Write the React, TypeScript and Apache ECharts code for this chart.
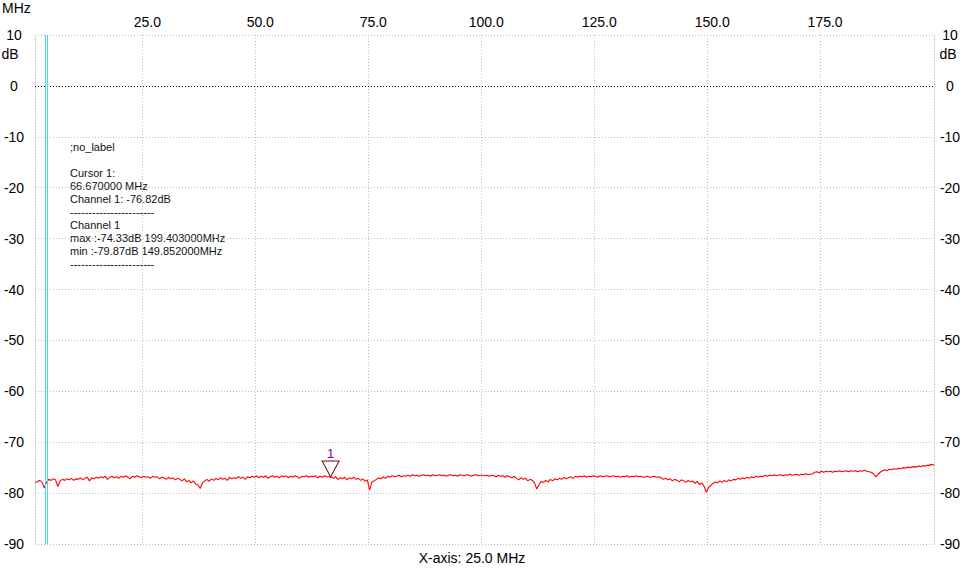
import React, { useEffect, useRef } from "react";
import * as echarts from "echarts";

const freqStart = 1.3;
const freqStep = 0.5;
const levels: number[] = [
  -77.9, -77.7, -77.5, -77.8, -79.0, -77.9, -77.3, -77.5, -77.2, -77.4,
  -78.7, -77.6, -77.3, -77.5, -77.2, -77.4, -77.1, -77.5, -77.2, -77.3,
  -77.0, -77.4, -77.1, -76.9, -77.6, -77.0, -77.2, -76.9, -77.1, -76.8,
  -77.0, -76.7, -77.3, -76.9, -76.7, -77.0, -76.8, -77.1, -76.7, -76.9,
  -76.6, -76.9, -77.2, -76.7, -76.9, -76.6, -76.8, -77.0, -76.7, -76.9,
  -76.8, -77.1, -76.7, -76.9, -76.8, -77.2, -76.9, -77.0, -77.3, -76.9,
  -77.2, -77.0, -77.4, -77.1, -77.3, -77.6, -77.2, -77.8, -77.5, -78.0,
  -77.6, -78.2, -78.4, -79.1, -78.0, -77.6, -77.3, -77.7, -77.2, -77.5,
  -77.1, -77.4, -77.0, -77.3, -77.1, -77.5, -76.9, -77.2, -77.0, -77.1,
  -76.8, -77.1, -76.9, -77.3, -76.8, -77.0, -76.7, -76.9, -76.6, -77.0,
  -76.7, -76.9, -76.6, -77.1, -76.8, -76.6, -76.9, -76.7, -77.0, -76.6,
  -76.8, -76.6, -77.0, -76.7, -76.9, -76.6, -76.8, -77.1, -76.7, -76.8,
  -76.6, -76.9, -76.7, -76.8, -76.6, -77.0, -76.7, -76.9, -76.6, -76.8,
  -76.8, -76.9, -77.1, -76.8, -77.3, -77.0, -77.2, -76.9, -77.4, -77.0,
  -77.2, -76.9, -77.3, -77.1, -77.5, -77.2, -77.7, -77.4, -79.4, -77.8,
  -77.6, -77.3, -77.0, -77.2, -76.8, -77.1, -76.7, -76.9, -76.6, -76.8,
  -76.7, -76.5, -76.8, -76.6, -76.7, -76.5, -76.7, -76.4, -76.6, -76.5,
  -76.7, -76.5, -76.4, -76.6, -76.5, -76.7, -76.4, -76.6, -76.5, -76.4,
  -76.6, -76.5, -76.7, -76.5, -76.4, -76.6, -76.5, -76.7, -76.4, -76.5,
  -76.6, -76.4, -76.5, -76.7, -76.5, -76.4, -76.6, -76.5, -76.5, -76.6,
  -76.5, -76.7, -76.5, -76.6, -76.8, -76.5, -76.7, -76.6, -76.9, -76.6,
  -76.8, -77.0, -76.7, -77.1, -77.4, -77.0, -77.3, -77.1, -77.6, -77.3,
  -77.5, -78.0, -79.2, -78.3, -77.7, -77.9, -77.5, -77.8, -77.3, -77.6,
  -77.2, -77.4, -77.1, -77.3, -76.9, -77.2, -77.0, -76.8, -77.1, -76.7,
  -76.9, -76.7, -76.8, -76.6, -76.9, -76.7, -76.8, -76.6, -76.7, -76.9,
  -76.6, -76.8, -76.7, -76.6, -76.8, -76.7, -76.6, -76.8, -76.7, -76.9,
  -76.7, -76.8, -76.6, -76.9, -76.7, -76.8, -76.6, -76.8, -76.7, -76.9,
  -76.8, -76.7, -76.9, -76.8, -76.7, -76.9, -76.8, -77.0, -77.3, -77.1,
  -77.4, -77.2, -77.6, -77.3, -77.5, -77.8, -77.4, -77.6, -77.9, -77.5,
  -77.8, -77.6, -78.1, -77.7, -78.3, -78.0, -78.6, -79.87, -78.9, -78.5,
  -78.1, -77.8, -78.0, -77.6, -77.9, -77.5, -77.8, -77.4, -77.6, -77.3,
  -77.4, -77.1, -77.3, -77.0, -77.2, -76.9, -77.1, -76.8, -77.0, -76.7,
  -76.9, -76.7, -76.8, -76.5, -76.7, -76.5, -76.6, -76.4, -76.6, -76.5,
  -76.4, -76.6, -76.4, -76.5, -76.3, -76.5, -76.4, -76.3, -76.5, -76.3,
  -76.4, -76.2, -76.4, -76.3, -76.2, -75.9, -75.8, -76.0, -75.7, -75.9,
  -75.7, -75.8, -75.7, -75.9, -75.7, -75.8, -75.6, -75.8, -75.7, -75.6,
  -75.8, -75.6, -75.7, -75.6, -75.8, -75.6, -75.7, -75.5, -75.7, -75.8,
  -75.9, -76.2, -76.8, -76.3, -75.9, -75.6, -75.4, -75.6, -75.3, -75.4,
  -75.2, -75.3, -75.1, -75.2, -75.0, -75.1, -74.9, -75.0, -74.9, -74.8,
  -74.9, -74.7, -74.8, -74.6, -74.7, -74.5, -74.6,
];
const tailPoints: [number, number][] = [
  [199.403, -74.33],
  [200.2, -74.5],
];
const xTicks = [25, 50, 75, 100, 125, 150, 175];
const cursorFreq = 66.67;
const cursorLevel = -76.82;
const startMarkers = [3.574, 4.016];
const infoLines = [
  ";no_label",
  "",
  "Cursor 1:",
  "66.670000 MHz",
  "Channel 1: -76.82dB",
  "-----------------------",
  "Channel 1",
  "max :-74.33dB 199.403000MHz",
  "min :-79.87dB 149.852000MHz",
  "-----------------------",
];

const FONT = "'Liberation Sans', Arial, sans-serif";

export default function App() {
  const ref = useRef<HTMLDivElement>(null);
  useEffect(() => {
    if (!ref.current) return;
    const chart = echarts.init(ref.current, null, { renderer: "svg" });
    const data: [number, number][] = levels
      .map((v, i) => [+(freqStart + i * freqStep).toFixed(3), v] as [number, number])
      .concat(tailPoints);
    const gridLine = { color: "#c0c0c0", type: [1, 2] as number[], width: 1 };
    const yLabel = {
      fontSize: 14,
      fontFamily: FONT,
      color: "#000",
      align: "center" as const,
      padding: [0, 0, 6, 0],
    };
    chart.setOption({
      animation: false,
      grid: { left: 35, right: 35, top: 35, bottom: 35 },
      xAxis: {
        type: "value",
        position: "top",
        min: 1.25,
        max: 200.2,
        axisLine: { show: false },
        axisTick: { show: false, customValues: xTicks },
        axisLabel: {
          customValues: xTicks,
          formatter: (v: number) => v.toFixed(1),
          fontSize: 14,
          fontFamily: FONT,
          color: "#000",
          margin: 6,
          padding: [0, 0, 0, 10],
        },
        splitLine: { show: true, lineStyle: gridLine },
      },
      yAxis: [
        {
          type: "value",
          position: "left",
          min: -90,
          max: 10,
          interval: 10,
          axisLine: { show: true, lineStyle: gridLine },
          axisTick: { show: false },
          axisLabel: { ...yLabel, margin: 21 },
          splitLine: { show: true, lineStyle: gridLine },
        },
        {
          type: "value",
          position: "right",
          min: -90,
          max: 10,
          interval: 10,
          axisLine: { show: true, lineStyle: gridLine },
          axisTick: { show: false },
          axisLabel: { ...yLabel, margin: 16 },
          splitLine: { show: false },
        },
      ],
      series: [
        {
          type: "line",
          data,
          showSymbol: false,
          symbol: "none",
          lineStyle: { color: "#ff0000", width: 1.1 },
          silent: true,
          markLine: {
            silent: true,
            symbol: "none",
            label: { show: false },
            data: [
              { yAxis: 0, lineStyle: { color: "#000", type: [1, 2], width: 1 } },
              ...startMarkers.map((x) => ({
                xAxis: x,
                lineStyle: { color: "#3fdcf0", type: "solid", width: 1 },
              })),
            ],
          },
          markPoint: {
            silent: true,
            symbol: "path://M0,0L16,0L8,16Z",
            symbolSize: [17, 16],
            symbolOffset: [0, "-50%"],
            itemStyle: { color: "rgba(0,0,0,0)", borderColor: "#800000", borderWidth: 1 },
            label: {
              show: true,
              position: "top",
              distance: 0,
              formatter: "1",
              color: "#800080",
              fontSize: 13,
              fontFamily: FONT,
            },
            data: [{ coord: [cursorFreq, cursorLevel] }],
          },
        },
      ],
      graphic: [
        {
          type: "text",
          left: 2,
          top: 1,
          style: { text: "MHz", fontSize: 14, fontFamily: FONT, fill: "#000" },
        },
        {
          type: "text",
          x: 10,
          y: 54,
          style: {
            text: "dB",
            fontSize: 14,
            fontFamily: FONT,
            fill: "#000",
            align: "center",
            verticalAlign: "middle",
          },
        },
        {
          type: "text",
          x: 948,
          y: 54,
          style: {
            text: "dB",
            fontSize: 14,
            fontFamily: FONT,
            fill: "#000",
            align: "center",
            verticalAlign: "middle",
          },
        },
        {
          type: "text",
          x: 472,
          y: 558,
          style: {
            text: "X-axis: 25.0 MHz",
            fontSize: 14,
            fontFamily: FONT,
            fill: "#000",
            align: "center",
            verticalAlign: "middle",
          },
        },
        {
          type: "text",
          x: 70,
          y: 140,
          style: {
            text: infoLines.join("\n"),
            fontSize: 11,
            lineHeight: 13,
            fontFamily: FONT,
            fill: "#111",
          },
        },
      ],
    });
    return () => chart.dispose();
  }, []);
  return (
    <div
      ref={ref}
      style={{ position: "fixed", left: 0, top: 0, width: 969, height: 579, background: "#fff" }}
    />
  );
}
